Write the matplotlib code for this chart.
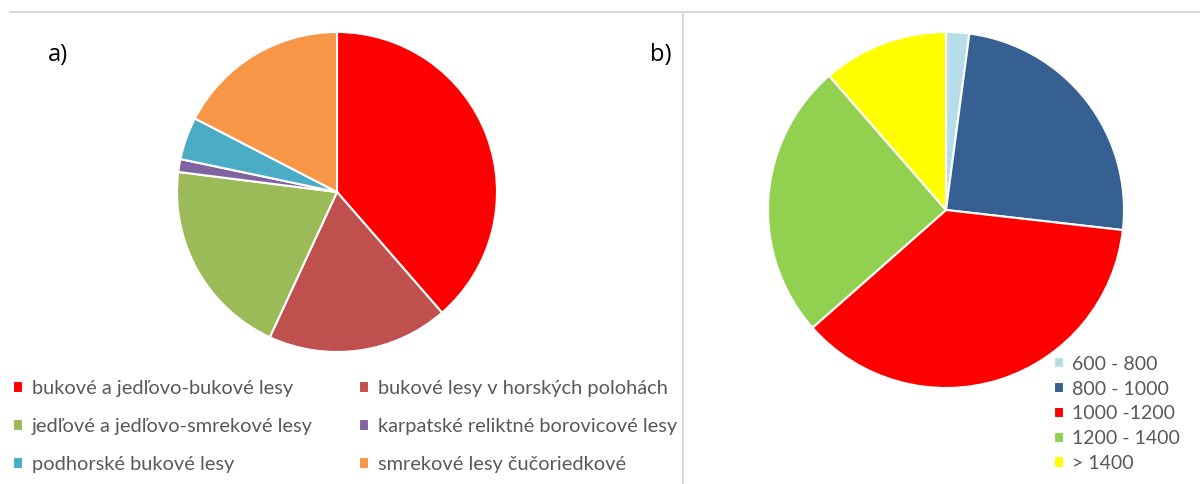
import matplotlib.pyplot as plt
from matplotlib.lines import Line2D

plt.rcParams['font.family'] = ['Lato', 'DejaVu Sans']

# a) forest types (% share)
forest_types = ['bukové a jedľovo-bukové lesy', 'bukové lesy v horských polohách',
                'jedľové a jedľovo-smrekové lesy', 'karpatské reliktné borovicové lesy',
                'podhorské bukové lesy', 'smrekové lesy čučoriedkové']
forest_share = [38.6, 18.3, 20.1, 1.3, 4.3, 17.4]
forest_colors = ['#FF0000', '#C0504D', '#9BBB59', '#8064A2', '#4BACC6', '#F79646']

# b) altitude zones (m a.s.l., % share)
altitude_zones = ['600 - 800', '800 - 1000', '1000 -1200', '1200 - 1400', '> 1400']
altitude_share = [2.1, 24.7, 36.7, 25.1, 11.4]
altitude_colors = ['#B7DEE8', '#376092', '#FF0000', '#92D050', '#FFFF00']

W, H = 1200, 484
fig = plt.figure(figsize=(W / 100, H / 100), dpi=100)


def pie_axes(cx, cy, r):
    ax = fig.add_axes([(cx - r) / W, (H - cy - r) / H, 2 * r / W, 2 * r / H])
    return ax


def draw_pie(ax, values, colors):
    wedges, _ = ax.pie(values, colors=colors, startangle=90, counterclock=False,
                       radius=1, wedgeprops=dict(edgecolor='white', linewidth=1.5))
    ax.set_xlim(-1, 1)
    ax.set_ylim(-1, 1)
    ax.set_aspect('equal')
    ax.axis('off')
    return wedges


ax_a = pie_axes(337, 192, 160)
wa = draw_pie(ax_a, forest_share, forest_colors)

ax_b = pie_axes(946, 210, 178)
wb = draw_pie(ax_b, altitude_share, altitude_colors)

# frame lines
fig.add_artist(Line2D([10 / W, 1], [1 - 12 / H] * 2, transform=fig.transFigure,
                      color='#d9d9d9', lw=1.5))
fig.add_artist(Line2D([683 / W] * 2, [0, 1 - 12 / H], transform=fig.transFigure,
                      color='#d9d9d9', lw=1.5))

fig.text(48 / W, 1 - 55 / H, 'a)', fontsize=17, va='center', ha='left',
         family=['Open Sans', 'DejaVu Sans'])
fig.text(650 / W, 1 - 55 / H, 'b)', fontsize=17, va='center', ha='left',
         family=['Open Sans', 'DejaVu Sans'])

# legend a: row-major like Excel
order = [0, 2, 4, 1, 3, 5]
fig.legend([wa[i] for i in order], [forest_types[i] for i in order], ncol=2,
           loc='upper left', bbox_to_anchor=(5 / W, 1 - 372 / H), frameon=False,
           fontsize=14.4, labelcolor='#595959', handlelength=0.5, handleheight=0.5,
           handletextpad=0.45, columnspacing=2.3, labelspacing=1.05, borderaxespad=0)

fig.legend(wb, altitude_zones, loc='upper left', bbox_to_anchor=(1046 / W, 1 - 348 / H),
           frameon=False, fontsize=14, labelcolor='#595959', handlelength=0.5,
           handleheight=0.5, handletextpad=0.45, labelspacing=0.4, borderaxespad=0)

fig.savefig('out.png', dpi=100)
